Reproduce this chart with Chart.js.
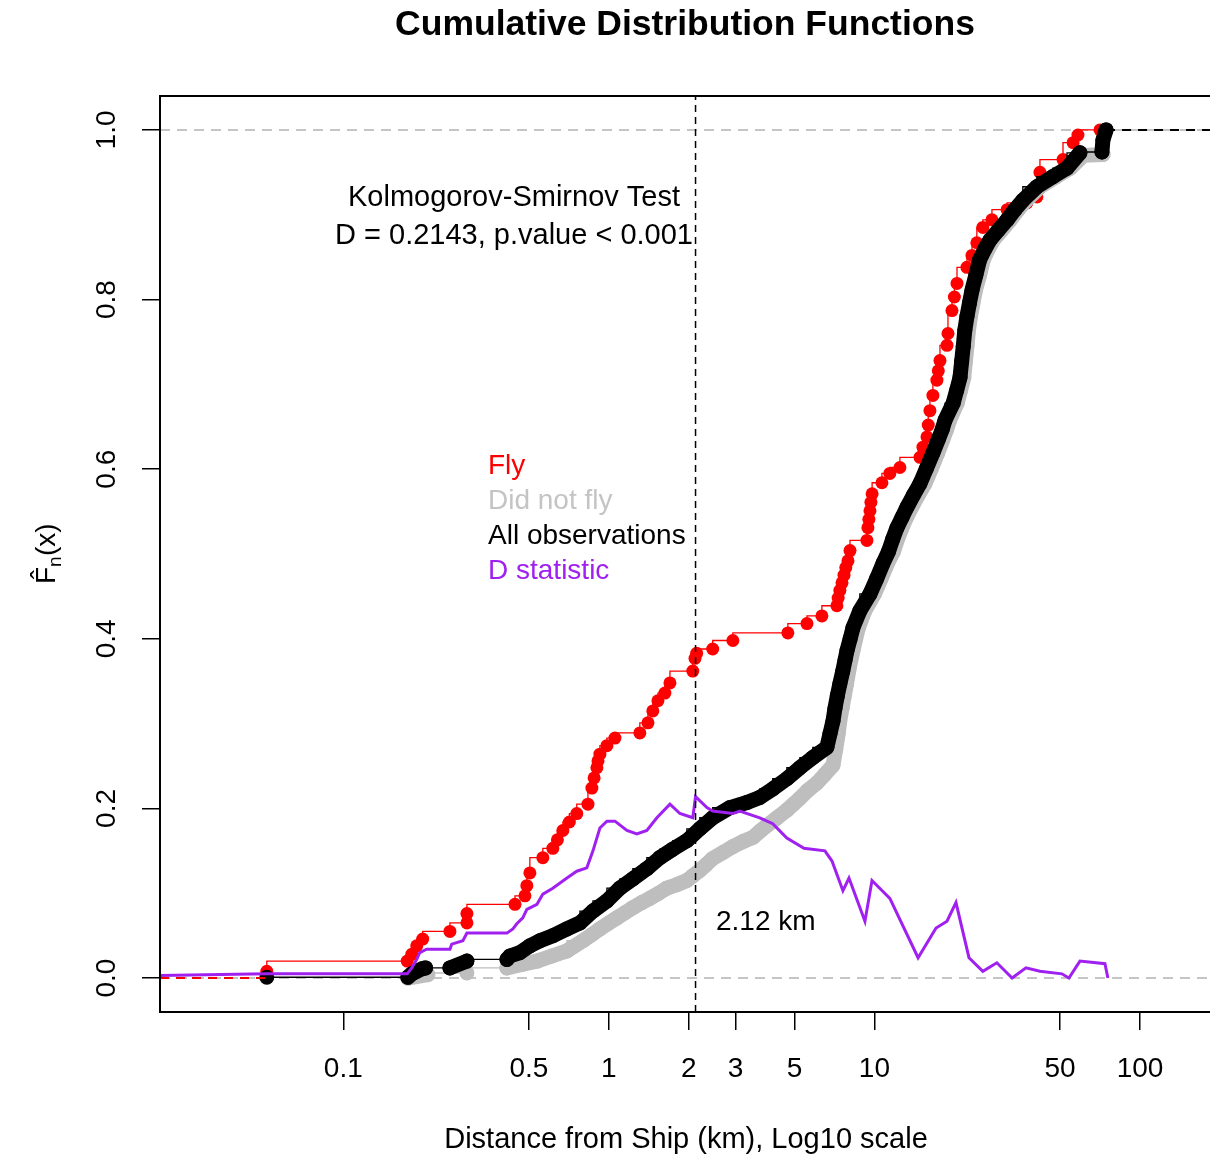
<!DOCTYPE html>
<html>
<head>
<meta charset="utf-8">
<script src="https://cdn.jsdelivr.net/npm/chart.js@4.4.1/dist/chart.umd.min.js"></script>
<style>
  html, body { margin: 0; padding: 0; background: #fff; }
  #wrap { width: 1210px; height: 1156px; }
</style>
</head>
<body>
<div id="wrap"><canvas id="cdfChart" width="1210" height="1156"></canvas></div>
<script>
// axis ticks
const xTicks = [0.1, 0.5, 1, 2, 3, 5, 10, 50, 100];
const xTickLabels = ['0.1', '0.5', '1', '2', '3', '5', '10', '50', '100'];
const yTicks = [0, 0.2, 0.4, 0.6, 0.8, 1.0];
const yTickLabels = ['0.0', '0.2', '0.4', '0.6', '0.8', '1.0'];
const refLevels = [0, 1];
const ksAt = 2.12; // km, where D is largest

// ECDF of the "Fly" group  [km, Fn]
const flyPts = [
  [0.0515, 0.008], [0.174, 0.020], [0.181, 0.028], [0.189, 0.038], [0.199, 0.046],
  [0.252, 0.055], [0.292, 0.065], [0.292, 0.076], [0.443, 0.087], [0.483, 0.097],
  [0.491, 0.109], [0.504, 0.124], [0.564, 0.142], [0.615, 0.153], [0.64, 0.163],
  [0.671, 0.174], [0.71, 0.184], [0.757, 0.194], [0.834, 0.205], [0.863, 0.224],
  [0.88, 0.236], [0.901, 0.248], [0.91, 0.256], [0.925, 0.264], [0.983, 0.274],
  [1.054, 0.283], [1.308, 0.289], [1.403, 0.301], [1.464, 0.315], [1.53, 0.327],
  [1.625, 0.336], [1.698, 0.348], [2.07, 0.362], [2.11, 0.377], [2.14, 0.383],
  [2.46, 0.388], [2.93, 0.398], [4.72, 0.407], [5.57, 0.418], [6.34, 0.427],
  [7.22, 0.439], [7.3, 0.448], [7.41, 0.457], [7.55, 0.466], [7.68, 0.475],
  [7.8, 0.484], [7.95, 0.492], [8.09, 0.504], [9.37, 0.516], [9.45, 0.531],
  [9.53, 0.541], [9.62, 0.551], [9.7, 0.561], [9.8, 0.571], [10.67, 0.584],
  [11.43, 0.595], [12.47, 0.602], [14.84, 0.614], [15.23, 0.626], [15.77, 0.638],
  [15.95, 0.652], [16.18, 0.669], [16.6, 0.687], [17.19, 0.705], [17.4, 0.716],
  [17.65, 0.728], [18.76, 0.746], [18.92, 0.760], [19.59, 0.787], [20.0, 0.803],
  [20.46, 0.819], [22.3, 0.838], [23.3, 0.852], [24.3, 0.867], [25.6, 0.885],
  [27.7, 0.894], [31.6, 0.906], [37.5, 0.914], [40.9, 0.921], [41.5, 0.935],
  [42.0, 0.950], [51.3, 0.965], [56.0, 0.985], [58.4, 0.994], [70.7, 1.0]
];

// ECDF of the "Did not fly" group
const noFlyPts = [
  [0.175, 0.0], [0.208, 0.004], [0.292, 0.006], [0.413, 0.012], [0.47, 0.016],
  [0.536, 0.020], [0.61, 0.026], [0.695, 0.032], [0.798, 0.044], [0.86, 0.051],
  [0.925, 0.058], [0.99, 0.064], [1.072, 0.071], [1.15, 0.077], [1.231, 0.083],
  [1.33, 0.089], [1.427, 0.094], [1.54, 0.100], [1.653, 0.106], [1.80, 0.110],
  [1.966, 0.115], [2.08, 0.121], [2.20, 0.127], [2.33, 0.134], [2.46, 0.141],
  [2.69, 0.148], [2.93, 0.155], [3.2, 0.161], [3.49, 0.166], [3.7, 0.173],
  [3.94, 0.180], [4.3, 0.189], [4.68, 0.198], [4.95, 0.205], [5.24, 0.212],
  [5.6, 0.221], [6.07, 0.230], [6.5, 0.240], [6.98, 0.251], [7.15, 0.270],
  [7.3, 0.288], [7.4, 0.303], [7.55, 0.318], [7.7, 0.333], [7.85, 0.347],
  [8.0, 0.362], [8.15, 0.375], [8.3, 0.386], [8.5, 0.400], [8.7, 0.413],
  [9.2, 0.433], [10.0, 0.453], [10.6, 0.471], [11.2, 0.489], [11.8, 0.503],
  [12.2, 0.517], [12.7, 0.531], [13.2, 0.543], [13.8, 0.555], [14.6, 0.569],
  [15.5, 0.583], [16.4, 0.601], [17.3, 0.619], [18.1, 0.635], [18.7, 0.647],
  [19.2, 0.658], [20.5, 0.678], [21.1, 0.693], [21.7, 0.708], [22.0, 0.727],
  [22.3, 0.745], [22.6, 0.764], [23.0, 0.780], [23.5, 0.796], [24.0, 0.811],
  [24.9, 0.829], [25.7, 0.847], [26.8, 0.859], [28.0, 0.870], [30.2, 0.882],
  [32.5, 0.894], [34.8, 0.906], [37.3, 0.917], [42.1, 0.933], [48.4, 0.945],
  [54.7, 0.955], [61.2, 0.970], [72.6, 0.971], [74.5, 1.0]
];

// ECDF of all observations
const allPts = [
  [0.0515, 0.001], [0.175, 0.001], [0.181, 0.005], [0.189, 0.008], [0.198, 0.011],
  [0.204, 0.012], [0.252, 0.012], [0.292, 0.020], [0.413, 0.022], [0.424, 0.026],
  [0.462, 0.030], [0.504, 0.038], [0.550, 0.044], [0.615, 0.050], [0.695, 0.058],
  [0.778, 0.065], [0.871, 0.079], [0.983, 0.091], [1.100, 0.106], [1.231, 0.117],
  [1.390, 0.129], [1.556, 0.142], [1.742, 0.152], [1.966, 0.162], [2.20, 0.176],
  [2.46, 0.189], [2.86, 0.201], [3.31, 0.207], [3.70, 0.213], [4.14, 0.223],
  [4.68, 0.235], [5.24, 0.248], [5.86, 0.260], [6.62, 0.272], [6.80, 0.288],
  [6.98, 0.303], [7.10, 0.318], [7.25, 0.333], [7.41, 0.347], [7.60, 0.362],
  [7.75, 0.375], [7.88, 0.386], [8.10, 0.400], [8.30, 0.413], [8.81, 0.433],
  [9.62, 0.453], [10.2, 0.471], [10.77, 0.489], [11.3, 0.503], [11.7, 0.517],
  [12.16, 0.531], [12.7, 0.543], [13.25, 0.555], [14.0, 0.569], [14.84, 0.583],
  [15.7, 0.601], [16.6, 0.619], [17.4, 0.635], [18.0, 0.647], [18.45, 0.658],
  [19.8, 0.678], [20.4, 0.693], [21.0, 0.708], [21.3, 0.727], [21.6, 0.745],
  [21.9, 0.764], [22.3, 0.780], [22.8, 0.796], [23.3, 0.811], [24.1, 0.829],
  [24.9, 0.847], [26.0, 0.859], [27.2, 0.870], [29.3, 0.882], [31.6, 0.894],
  [33.8, 0.906], [36.2, 0.917], [40.9, 0.933], [47.0, 0.945], [53.1, 0.955],
  [59.4, 0.973], [71.9, 0.974], [72.5, 0.988], [74.5, 1.0]
];

// |F_fly - F_notfly| along distance
const dStatPts = [
  [0.02, 0.003], [0.0515, 0.005], [0.174, 0.005], [0.181, 0.012], [0.189, 0.022],
  [0.194, 0.030], [0.206, 0.034], [0.252, 0.034], [0.256, 0.040], [0.282, 0.044],
  [0.292, 0.053], [0.413, 0.053], [0.435, 0.058], [0.450, 0.064], [0.474, 0.071],
  [0.491, 0.081], [0.536, 0.087], [0.564, 0.099], [0.615, 0.106], [0.695, 0.118],
  [0.757, 0.126], [0.826, 0.130], [0.871, 0.150], [0.925, 0.177], [0.983, 0.185],
  [1.054, 0.185], [1.169, 0.174], [1.274, 0.170], [1.390, 0.174], [1.516, 0.189],
  [1.698, 0.205], [1.851, 0.194], [2.07, 0.189], [2.12, 0.214], [2.34, 0.201],
  [2.46, 0.197], [2.93, 0.194], [3.11, 0.197], [3.70, 0.189], [4.14, 0.182],
  [4.68, 0.165], [5.43, 0.153], [6.51, 0.150], [6.92, 0.138], [7.61, 0.103],
  [8.02, 0.118], [9.21, 0.067], [9.79, 0.115], [11.43, 0.094], [14.6, 0.024],
  [17.06, 0.059], [18.76, 0.067], [20.28, 0.089], [22.7, 0.024], [25.6, 0.008],
  [28.9, 0.018], [33.0, 0.0], [37.2, 0.012], [42.0, 0.008], [50.8, 0.005],
  [54.0, 0.0], [59.4, 0.020], [73.8, 0.017], [75.7, 0.0]
];

const X_MIN = 0.0204, X_MAX = 183.5;
const FONT = '"Liberation Sans", Arial, sans-serif';

const toXY = pts => pts.map(p => ({ x: p[0], y: p[1] }));

// where points sit close together they merge into a thick band
const isDense = c => Math.hypot(c.p1.x - c.p0.x, c.p1.y - c.p0.y) < 21;

function band(pts, color, order) {
  return {
    data: toXY(pts), showLine: true, pointRadius: 0, pointHoverRadius: 0, borderWidth: 15,
    borderCapStyle: 'round', borderJoinStyle: 'round', order: order,
    borderColor: color,
    segment: { borderColor: c => isDense(c) ? color : 'rgba(0,0,0,0)' }
  };
}

function steps(pts, color, radius, order) {
  return {
    data: toXY(pts), showLine: true, stepped: 'after', borderWidth: 1.3,
    borderColor: color, pointRadius: radius, pointBorderWidth: 0,
    pointBackgroundColor: color, order: order
  };
}

const datasets = [
  steps(flyPts, '#ff0000', 6.5, 7),
  band(noFlyPts, '#bebebe', 6),
  steps(noFlyPts, '#bebebe', 7.5, 5),
  band(allPts, '#000000', 4),
  steps(allPts, '#000000', 7.5, 3),
  { // right-hand tail of the all-observations ECDF
    data: [{ x: allPts[allPts.length - 1][0], y: 1 }, { x: X_MAX, y: 1 }],
    showLine: true, borderColor: '#000', borderWidth: 2, borderDash: [9, 7],
    pointRadius: 0, order: 2
  },
  {
    data: toXY(dStatPts), showLine: true, borderColor: '#a020f0', borderWidth: 3,
    borderJoinStyle: 'miter', pointRadius: 0, order: 1
  },
  { // left-hand tail of the Fly ECDF
    data: [{ x: X_MIN, y: 0 }, { x: flyPts[0][0], y: 0 }],
    showLine: true, borderColor: '#ff0000', borderWidth: 2, borderDash: [9, 7],
    pointRadius: 0, order: 0
  }
];

const decor = {
  id: 'decor',
  beforeDatasetsDraw(chart) {
    const { ctx, chartArea: a, scales: { y } } = chart;
    ctx.save();
    ctx.strokeStyle = '#b3b3b3';
    ctx.lineWidth = 1.5;
    ctx.setLineDash([10, 7]);
    refLevels.forEach(v => {
      const py = y.getPixelForValue(v);
      ctx.beginPath(); ctx.moveTo(a.left, py); ctx.lineTo(a.right, py); ctx.stroke();
    });
    ctx.restore();
  },
  afterDatasetsDraw(chart) {
    const { ctx, chartArea: a, scales: { x } } = chart;
    ctx.save();
    // vertical line at the KS distance
    const px = x.getPixelForValue(ksAt);
    ctx.strokeStyle = '#000';
    ctx.lineWidth = 1.5;
    ctx.setLineDash([7, 5]);
    ctx.beginPath(); ctx.moveTo(px, a.bottom); ctx.lineTo(px, a.top); ctx.stroke();
    // plot frame (right side runs off the image)
    ctx.setLineDash([]);
    ctx.lineWidth = 2;
    ctx.strokeRect(a.left, a.top, a.right - a.left + 20, a.bottom - a.top);
    ctx.restore();
  },
  afterDraw(chart) {
    const { ctx, scales: { x, y } } = chart;
    ctx.save();
    ctx.fillStyle = '#000';
    ctx.textBaseline = 'middle';

    // title
    ctx.textAlign = 'center';
    ctx.font = 'bold 35.5px ' + FONT;
    ctx.fillText('Cumulative Distribution Functions', 685, 25);

    // x-axis title
    ctx.font = '29px ' + FONT;
    ctx.fillText('Distance from Ship (km), Log10 scale', 686, 1140);

    // KS test result
    ctx.fillText('Kolmogorov-Smirnov Test', 514, 198);
    ctx.fillText('D = 0.2143, p.value < 0.001', 514, 236);

    // label by the vertical line
    ctx.textAlign = 'left';
    ctx.font = '28px ' + FONT;
    ctx.fillText(ksAt + ' km', 716, 922);

    // legend (coloured text only)
    const legend = [
      ['Fly', '#ff0000'], ['Did not fly', '#c4c4c4'],
      ['All observations', '#000000'], ['D statistic', '#a020f0']
    ];
    legend.forEach((l, i) => {
      ctx.fillStyle = l[1];
      ctx.fillText(l[0], 488, 466 + i * 35);
    });

    // y tick labels, rotated as in base R
    ctx.fillStyle = '#000';
    ctx.textAlign = 'center';
    yTicks.forEach((v, i) => {
      ctx.save();
      ctx.translate(107, y.getPixelForValue(v));
      ctx.rotate(-Math.PI / 2);
      ctx.fillText(yTickLabels[i], 0, 0);
      ctx.restore();
    });

    // y-axis title  F-hat_n(x)
    ctx.save();
    ctx.translate(45, 552);
    ctx.rotate(-Math.PI / 2);
    ctx.textAlign = 'left';
    ctx.textBaseline = 'alphabetic';
    ctx.font = '28px ' + FONT;
    ctx.fillText('F\u0302', -32, 10);
    ctx.font = '19px ' + FONT;
    ctx.fillText('n', -15, 16);
    ctx.font = '28px ' + FONT;
    ctx.fillText('(x)', -4, 10);
    ctx.restore();

    ctx.restore();
  }
};

new Chart(document.getElementById('cdfChart'), {
  type: 'scatter',
  data: { datasets: datasets },
  options: {
    responsive: false,
    animation: false,
    layout: { autoPadding: false, padding: { top: 96, left: 0, right: 0, bottom: 0 } },
    plugins: { legend: { display: false }, tooltip: { enabled: false }, title: { display: false } },
    scales: {
      x: {
        type: 'logarithmic',
        min: X_MIN,
        max: X_MAX,
        bounds: 'data',
        afterBuildTicks: s => { s.ticks = xTicks.map(v => ({ value: v })); },
        afterFit: s => { s.height = 144; s.paddingLeft = 0; s.paddingRight = 0; },
        border: { display: false },
        grid: { drawOnChartArea: false, drawTicks: true, tickLength: 18, color: '#000', lineWidth: 1.5 },
        ticks: {
          autoSkip: false, maxRotation: 0, minRotation: 0, padding: 22,
          color: '#000', font: { family: FONT, size: 28 },
          callback: (v, i) => xTickLabels[i]
        }
      },
      y: {
        type: 'linear',
        min: -0.04,
        max: 1.04,
        afterBuildTicks: s => { s.ticks = yTicks.map(v => ({ value: v })); },
        afterFit: s => { s.width = 160; s.paddingTop = 0; s.paddingBottom = 0; },
        border: { display: false },
        grid: { drawOnChartArea: false, drawTicks: true, tickLength: 18, color: '#000', lineWidth: 1.5 },
        ticks: { display: false }
      }
    }
  },
  plugins: [decor]
});
</script>
</body>
</html>
